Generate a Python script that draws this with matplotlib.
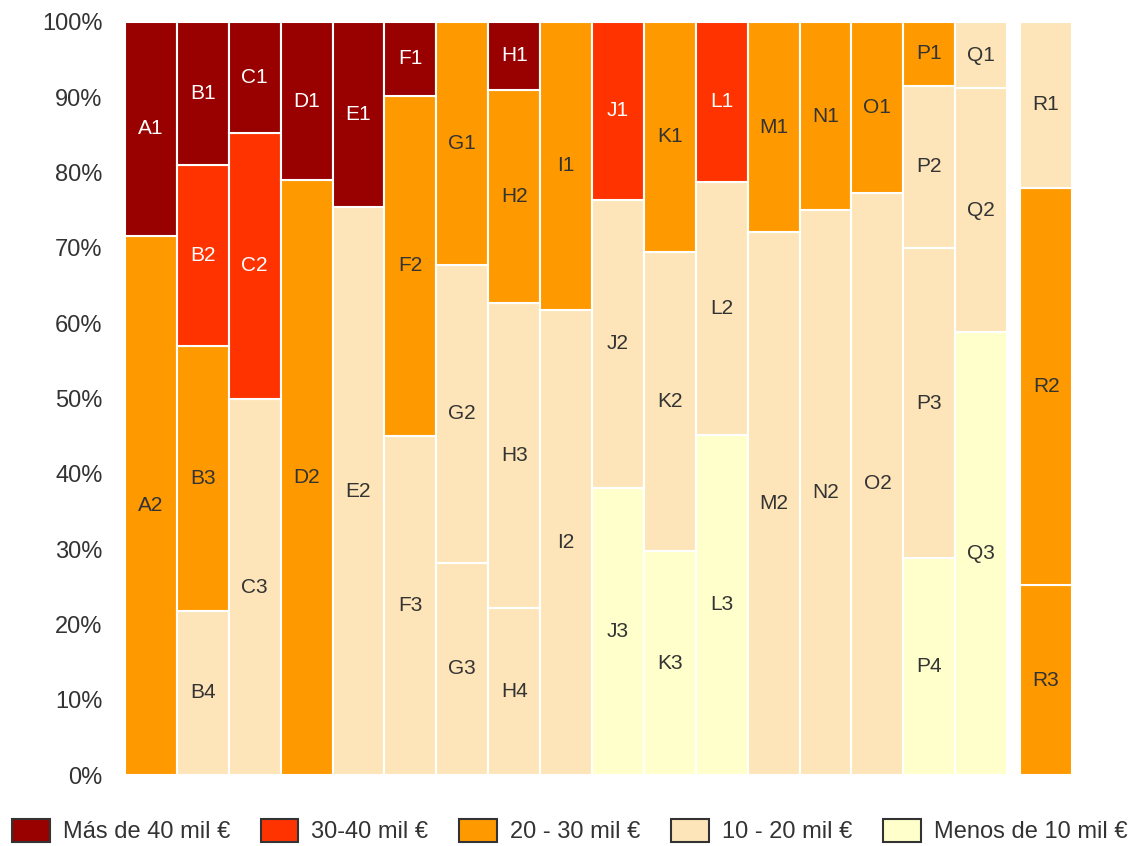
import matplotlib.pyplot as plt
from matplotlib.patches import Patch

plt.rcParams['font.family'] = ['Liberation Sans', 'DejaVu Sans']

# categories (legend order) and colours
categories = ['Más de 40 mil €', '30-40 mil €', '20 - 30 mil €', '10 - 20 mil €', 'Menos de 10 mil €']
colors = ['#990000', '#FF3300', '#FF9900', '#FDE5B9', '#FFFFCC']

bars = ['A', 'B', 'C', 'D', 'E', 'F', 'G', 'H', 'I', 'J', 'K', 'L', 'M', 'N', 'O', 'P', 'Q', 'R']

# segment shares from top (1) to bottom, in %
values = [
    [28.4, 71.6],
    [19.0, 24.0, 35.2, 21.8],
    [14.7, 35.4, 49.9],
    [21.0, 79.0],
    [24.6, 75.4],
    [9.8, 45.2, 45.0],
    [32.3, 39.5, 28.2],
    [9.0, 28.3, 40.5, 22.2],
    [38.2, 61.8],
    [23.6, 38.3, 38.1],
    [30.5, 39.8, 29.7],
    [21.2, 33.6, 45.2],
    [27.9, 72.1],
    [25.0, 75.0],
    [22.7, 77.3],
    [8.5, 21.5, 41.2, 28.8],
    [8.8, 32.4, 58.8],
    [22.0, 52.8, 25.2],
]
# category index of each segment (same order as values)
cats = [
    [0, 2],
    [0, 1, 2, 3],
    [0, 1, 3],
    [0, 2],
    [0, 3],
    [0, 2, 3],
    [2, 3, 3],
    [0, 2, 3, 3],
    [2, 3],
    [1, 3, 4],
    [2, 3, 4],
    [1, 3, 4],
    [2, 3],
    [2, 3],
    [2, 3],
    [2, 3, 3, 4],
    [3, 3, 4],
    [3, 2, 2],
]

xpos = list(range(17)) + [17.25]

fig = plt.figure(figsize=(11.39, 8.46), dpi=100)
ax = fig.add_axes([0.1097, 0.0839, 0.8315, 0.8901])

for i, name in enumerate(bars):
    segs = list(zip(values[i], cats[i]))[::-1]  # bottom first
    n = len(segs)
    bottom = 0
    for k, (v, c) in enumerate(segs):
        ax.bar(xpos[i], v, bottom=bottom, width=1.0, color=colors[c],
               edgecolor='white', linewidth=1.5)
        label = name + str(n - k)
        tc = 'white' if c in (0, 1) else '#333333'
        ax.text(xpos[i], bottom + v / 2, label, ha='center', va='center',
                fontsize=15, color=tc)
        bottom += v

ax.set_xlim(-0.5, 17.75)
ax.set_ylim(0, 100)
ax.set_yticks(range(0, 101, 10))
ax.set_yticklabels([f'{t}%' for t in range(0, 101, 10)], fontsize=17, color='#333333')
ax.set_xticks([])
ax.tick_params(axis='y', length=0, pad=16)
for s in ax.spines.values():
    s.set_visible(False)

handles = [Patch(facecolor=colors[i], edgecolor='#333333', linewidth=1.5) for i in range(5)]
fig.legend(handles, categories, loc='lower center', bbox_to_anchor=(0.5, -0.022), ncol=5,
           frameon=False, fontsize=17, handlelength=1.6, handleheight=1.1,
           handletextpad=0.55, columnspacing=1.3, labelcolor='#333333')

fig.savefig('out.png', dpi=100)
